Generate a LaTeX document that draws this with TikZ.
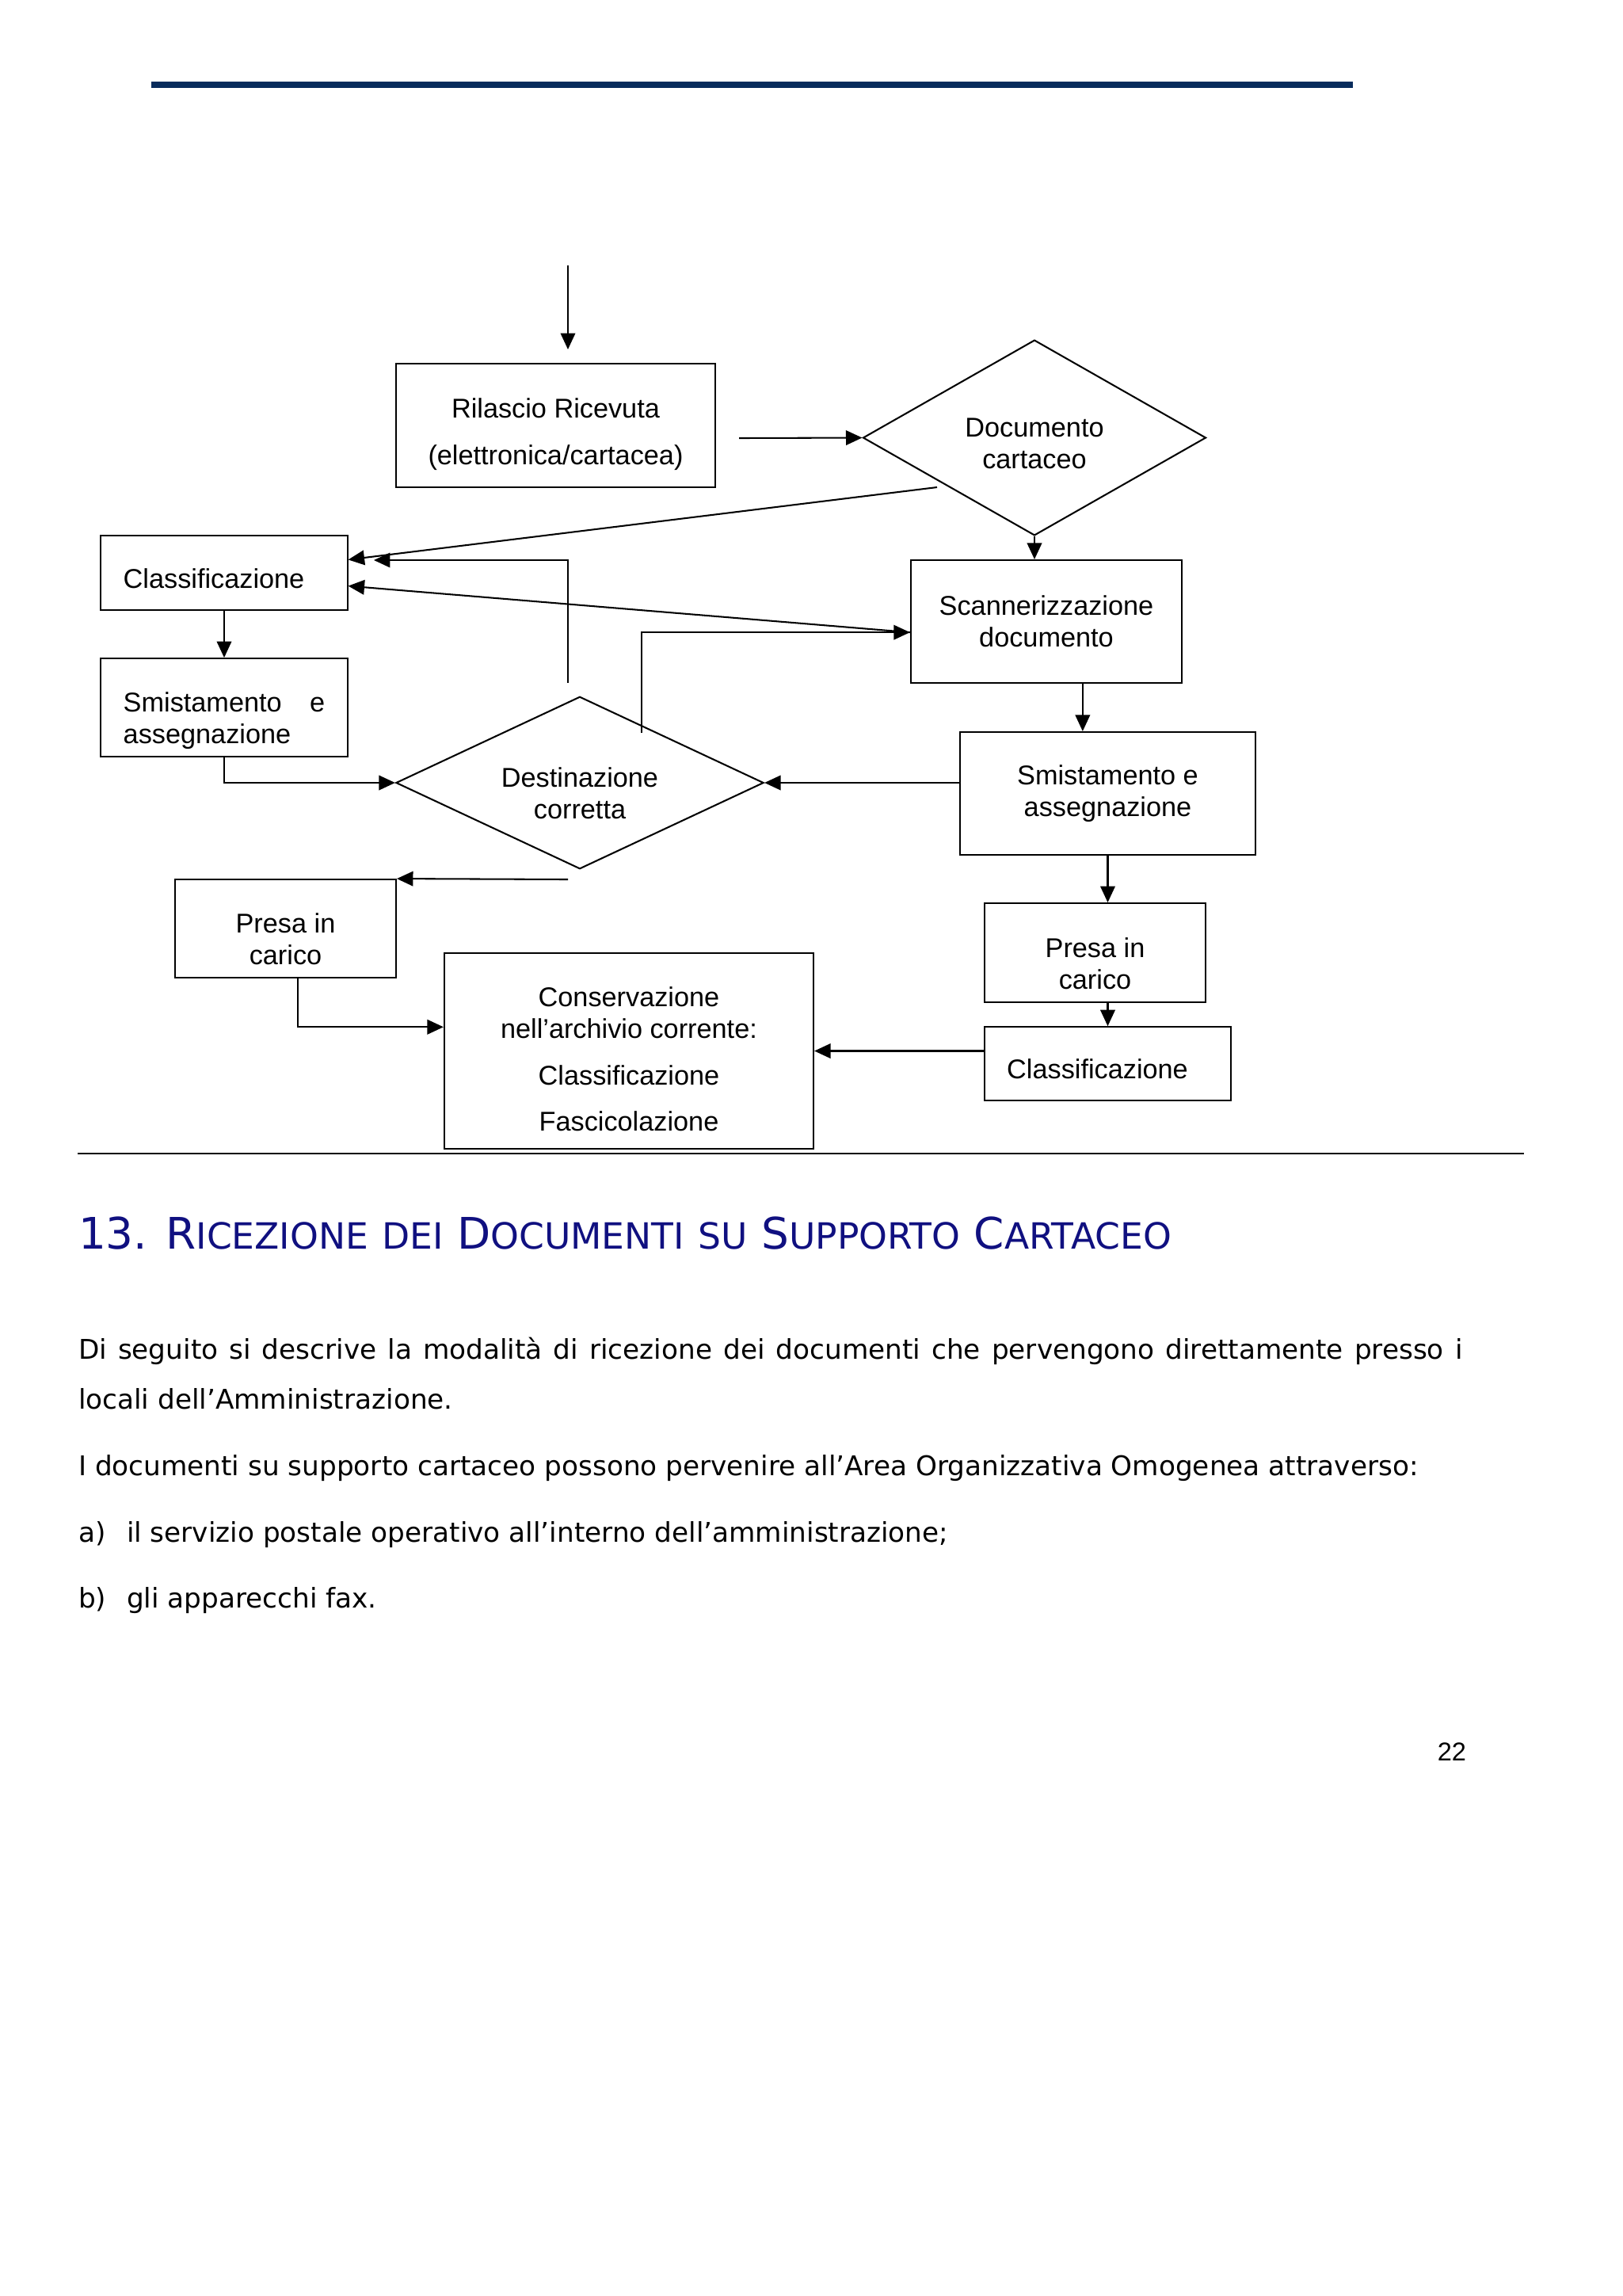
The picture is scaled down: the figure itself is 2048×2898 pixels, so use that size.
\documentclass[tikz,border=0pt]{standalone}
\usepackage{fontspec}
\setmainfont{Liberation Sans}
\newfontfamily\verdana{DejaVu Sans}
\usetikzlibrary{shapes.geometric, arrows.meta}

\definecolor{bluscuro}{RGB}{8,44,92}
\definecolor{blutitolo}{RGB}{16,16,128}
% maiuscoletto finto: iniziale grande, resto piccolo
\newcommand{\maiusc}[2]{{\fontsize{16}{19}\selectfont #1}{\fontsize{13.3}{16}\selectfont #2}}
% puntello invisibile: abbassa il testo nel riquadro
\newcommand{\giu}[1]{\rule{0pt}{#1}}

\begin{document}
\begin{tikzpicture}[
        x=0.10254mm, y=-0.10254mm, % 1 unità = 1 pixel della pagina
        line width=0.6pt,
        font=\fontsize{10}{11.6}\selectfont,
        cella/.style={rectangle, draw, align=center, inner sep=0pt}, % Stile dei riquadri
        cellasx/.style={rectangle, draw, align=left, text width=26.1mm, inner xsep=2.9mm, inner ysep=0pt},
        rombo/.style={diamond, draw, align=center, inner sep=0pt}, % Decisioni
        freccia/.style={draw, -{Triangle[length=2.1mm, width=1.9mm]}},
        corpo/.style={anchor=base west, inner sep=0pt, font=\verdana\fontsize{10}{18.3}\selectfont},
    ]

    \useasboundingbox (0,0) rectangle (2048,2898);

    \draw[bluscuro, line width=2.3pt] (191,107) -- (1708,107);

    \node[cella, minimum width=41.3mm, minimum height=16mm] (rilascio) at (701.5,537) {\giu{13.7pt}Rilascio Ricevuta\\[5.5pt](elettronica/cartacea)};
    \node[rombo, aspect=1.75, minimum width=44.4mm, minimum height=25.3mm] (doccart) at (1306,552.5) {\giu{11.1pt}Documento\\cartaceo};
    \node[cellasx, minimum height=9.6mm] (classsx) at (283,723) {\giu{11.3pt}Classificazione};
    \node[cellasx, minimum height=12.7mm] (smistsx) at (283,893) {\giu{17.1pt}Smistamento\hfill e\\assegnazione};
    \node[cella, minimum width=35.1mm, minimum height=15.9mm] (scanner) at (1321,784.5) {Scannerizzazione\\documento};
    \node[rombo, aspect=2.14, minimum width=47.6mm, minimum height=22.3mm] (destin) at (732,988) {\giu{14.9pt}Destinazione\\corretta};
    \node[cella, minimum width=38.2mm, minimum height=15.9mm] (smistdx) at (1398.5,1001.5) {Smistamento e\\assegnazione};
    \node[cella, minimum width=28.6mm, minimum height=12.7mm] (presasx) at (360.5,1172) {\giu{14.9pt}Presa in\\carico};
    \node[cella, minimum width=28.6mm, minimum height=12.8mm] (presadx) at (1382.5,1202.5) {\giu{15.3pt}Presa in\\carico};
    \node[cellasx, minimum height=9.5mm] (classdx) at (1398.5,1342.5) {\giu{11.3pt}Classificazione};
    \node[cella, minimum width=47.8mm, minimum height=25.3mm] (conserv) at (794,1326.5) {\giu{13.3pt}Conservazione\\nell’archivio corrente:\\[5.5pt]Classificazione\\[5.5pt]Fascicolazione};

    % estremi liberi delle frecce
    \coordinate (ingresso) at (717,335);
    \coordinate (ingresso-fine) at (717,441);
    \coordinate (ril-uscita) at (933,553);
    \coordinate (doc-uscita) at (1183,615);
    \coordinate (ritorno) at (717,862);
    \coordinate (ritorno-punta) at (472,707);
    \coordinate (salita) at (810,925);
    \coordinate (dest-uscita) at (717,1110);

    \draw[freccia] (ingresso) -- (ingresso-fine);
    \draw[freccia] (ril-uscita) -- (doccart.west);
    \draw[freccia] (doccart.south) -- (doccart.south |- scanner.north);
    \draw[freccia] (doc-uscita) -- ([yshift=1.7mm]classsx.east);
    \draw[freccia] (ritorno) |- (ritorno-punta);
    \draw[freccia] ([yshift=-1.4mm]scanner.west) -- ([yshift=-1.7mm]classsx.east);
    \draw[freccia] (salita) |- ([yshift=-1.4mm]scanner.west);
    \draw[freccia] (classsx) -- (smistsx);
    \draw[freccia] (smistsx.south) |- (destin.west);
    \draw[freccia] ([xshift=4.7mm]scanner.south) -- ([xshift=4.7mm]scanner.south |- smistdx.north);
    \draw[freccia] (smistdx.west |- destin.east) -- (destin.east);
    \draw[freccia] (dest-uscita) -- (presasx.north east);
    \draw[freccia] ([xshift=1.6mm]presasx.south) |- ([yshift=3.1mm]conserv.west);
    \draw[freccia] (smistdx.south) -- (smistdx.south |- presadx.north);
    \draw[freccia] (classdx.north |- presadx.south) -- (classdx.north);
    \draw[freccia] (classdx.west |- conserv.east) -- (conserv.east);

    \draw (98,1456) -- (1924,1456);

    \node[anchor=base west, inner sep=0pt, text=blutitolo, font=\verdana\fontsize{16}{19}\selectfont] (titolo) at (98,1576)
        {13. \maiusc{R}{ICEZIONE} \maiusc{}{DEI} \maiusc{D}{OCUMENTI} \maiusc{}{SU} \maiusc{S}{UPPORTO} \maiusc{C}{ARTACEO}};

    \node[corpo] (riga1) at (98,1715) {\makebox[509.8pt][s]{Di seguito si descrive la modalità di ricezione dei documenti che pervengono direttamente presso i}};
    \node[corpo] (riga2) at (98,1778) {locali dell’Amministrazione.};
    \node[corpo] (riga3) at (98,1862) {I documenti su supporto cartaceo possono pervenire all’Area Organizzativa Omogenea attraverso:};
    \node[corpo] (voce-a) at (98,1946) {\makebox[17.8pt][l]{a)}il servizio postale operativo all’interno dell’amministrazione;};
    \node[corpo] (voce-b) at (98,2029) {\makebox[17.8pt][l]{b)}gli apparecchi fax.};

    \node[anchor=base east, inner sep=0pt, font=\fontsize{9.5}{11}\selectfont] (pagina) at (1852,2222) {22};
\end{tikzpicture}
\end{document}
